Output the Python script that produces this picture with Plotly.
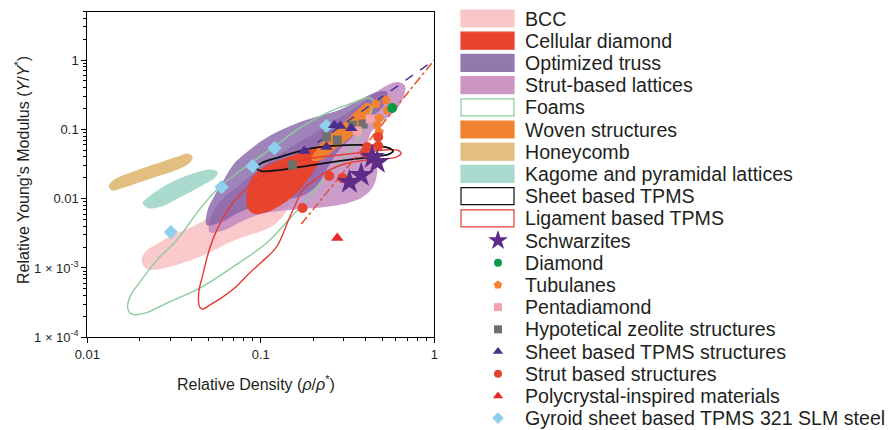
import plotly.graph_objects as go

# ---------------- data ----------------
# Regions (relative density, relative modulus) outlines
bcc_x = [0.0206, 0.0215, 0.0252, 0.0311, 0.0389, 0.0507, 0.0706, 0.0984, 0.137, 0.146, 0.137, 0.123, 0.108, 0.0688, 0.0445, 0.0262, 0.0220]
bcc_y = [0.00122, 0.00170, 0.00221, 0.00298, 0.00376, 0.00525, 0.00732, 0.00955, 0.0113, 0.00955, 0.00600, 0.00445, 0.00364, 0.00245, 0.00144, 0.000964, 0.000964]

kag_x = [0.0209, 0.0229, 0.0299, 0.0416, 0.0507, 0.0564, 0.0549, 0.0488, 0.0364, 0.0262, 0.0223]
kag_y = [0.00864, 0.0109, 0.0168, 0.0234, 0.0263, 0.0242, 0.0205, 0.0168, 0.0113, 0.00757, 0.00732]

hon_x = [0.0133, 0.0141, 0.0154, 0.0201, 0.0262, 0.0341, 0.0379, 0.0405, 0.0389, 0.0341, 0.0262, 0.0201, 0.0154, 0.0139]
hon_y = [0.0152, 0.0185, 0.0208, 0.0265, 0.0332, 0.0417, 0.0448, 0.0398, 0.0326, 0.0271, 0.0216, 0.0172, 0.0138, 0.0131]

strut_x = [0.0507, 0.0521, 0.0594, 0.0755, 0.105, 0.146, 0.204, 0.283, 0.369, 0.481, 0.611, 0.679, 0.653, 0.587, 0.494, 0.433, 0.416, 0.451, 0.469, 0.439, 0.379, 0.283, 0.204, 0.146, 0.105, 0.0805, 0.0618]
strut_y = [0.00330, 0.00580, 0.00955, 0.0157, 0.0305, 0.0537, 0.0885, 0.146, 0.224, 0.369, 0.482, 0.422, 0.265, 0.178, 0.127, 0.0914, 0.0593, 0.0385, 0.0242, 0.0142, 0.0102, 0.00809, 0.00732, 0.00685, 0.00620, 0.00491, 0.00352]

opt_x = [0.0488, 0.0494, 0.0535, 0.0602, 0.0706, 0.0861, 0.105, 0.131, 0.167, 0.217, 0.283, 0.369, 0.469, 0.535, 0.514, 0.433, 0.346, 0.283, 0.242, 0.212, 0.178, 0.137, 0.101, 0.0755, 0.0594]
opt_y = [0.00416, 0.00685, 0.0105, 0.0174, 0.0326, 0.0503, 0.0724, 0.0977, 0.127, 0.156, 0.190, 0.265, 0.345, 0.345, 0.224, 0.146, 0.0828, 0.0503, 0.0277, 0.0157, 0.0113, 0.00955, 0.00809, 0.00641, 0.00459]

cell_x = [0.0839, 0.0828, 0.0873, 0.0984, 0.120, 0.150, 0.186, 0.212, 0.223, 0.212, 0.186, 0.156, 0.131, 0.109, 0.0920]
cell_y = [0.00732, 0.0113, 0.0185, 0.0259, 0.0337, 0.0412, 0.0503, 0.0555, 0.0470, 0.0305, 0.0185, 0.0113, 0.00809, 0.00641, 0.00600]

wov_x = [0.196, 0.212, 0.248, 0.303, 0.360, 0.410, 0.444, 0.433, 0.379, 0.315, 0.265, 0.223]
wov_y = [0.0361, 0.0537, 0.0828, 0.127, 0.190, 0.240, 0.217, 0.161, 0.108, 0.0701, 0.0503, 0.0361]

foam_x = [0.0171, 0.0178, 0.0201, 0.0252, 0.0328, 0.0445, 0.0579, 0.0828, 0.123, 0.167, 0.239, 0.337, 0.410, 0.444, 0.439, 0.405, 0.337, 0.258, 0.198, 0.146, 0.108, 0.0688, 0.0445, 0.0287, 0.0215, 0.0181]
foam_y = [0.000264, 0.000406, 0.000626, 0.00130, 0.00253, 0.00708, 0.0147, 0.0295, 0.0593, 0.104, 0.172, 0.240, 0.283, 0.265, 0.210, 0.123, 0.0555, 0.0259, 0.0120, 0.00508, 0.00229, 0.00103, 0.000513, 0.000312, 0.000223, 0.000216]

lig_x = [0.0445, 0.0439, 0.0463, 0.0494, 0.0542, 0.0644, 0.0755, 0.0920, 0.112, 0.146, 0.198, 0.283, 0.394, 0.514, 0.611, 0.644, 0.603, 0.405, 0.303, 0.248, 0.204, 0.174, 0.158, 0.146, 0.123, 0.101, 0.0861, 0.0706, 0.0602, 0.0507, 0.0463]
lig_y = [0.000273, 0.000449, 0.000790, 0.00153, 0.00298, 0.00685, 0.0113, 0.0174, 0.0242, 0.0316, 0.0385, 0.0426, 0.0470, 0.0503, 0.0503, 0.0455, 0.0398, 0.0361, 0.0316, 0.0259, 0.0185, 0.0133, 0.00809, 0.00525, 0.00200, 0.00122, 0.000844, 0.000513, 0.000380, 0.000292, 0.000255]

sheet_x = [0.0945, 0.101, 0.128, 0.198, 0.311, 0.481, 0.550, 0.579, 0.550, 0.481, 0.311, 0.198, 0.128, 0.101]
sheet_y = [0.0277, 0.0326, 0.0398, 0.0537, 0.0593, 0.0574, 0.0537, 0.0486, 0.0440, 0.0412, 0.0361, 0.0305, 0.0259, 0.0250]

# Scaling guide lines
dash_x = [0.174, 1.0]
dash_y = [0.0455, 1.0]
dashdot_x = [0.171, 1.0]
dashdot_y = [0.00430, 1.0]

# Point data
schw_x = [0.324, 0.379, 0.439, 0.469]
schw_y = [0.0174, 0.0219, 0.0398, 0.0337]
dia_x = [0.572]
dia_y = [0.203]
tub_x = [0.462, 0.528, 0.535, 0.481, 0.469, 0.481]
tub_y = [0.232, 0.265, 0.190, 0.146, 0.115, 0.0914]
penta_x = [0.360, 0.427]
penta_y = [0.0945, 0.141]
zeo_x = [0.152, 0.239, 0.276, 0.337, 0.389]
zeo_y = [0.0305, 0.0774, 0.0701, 0.115, 0.119]
stpms_x = [0.178, 0.239, 0.265, 0.287, 0.332]
stpms_y = [0.0486, 0.0555, 0.115, 0.112, 0.104]
strutp_x = [0.475, 0.475, 0.410, 0.400, 0.248, 0.295, 0.174]
strutp_y = [0.0774, 0.0574, 0.0555, 0.0455, 0.0212, 0.0198, 0.00732]
poly_x = [0.276]
poly_y = [0.00270]
gyr_x = [0.0303, 0.0594, 0.0896, 0.120, 0.239]
gyr_y = [0.00330, 0.0147, 0.0295, 0.0537, 0.112]

x_ticks = [0.01, 0.1, 1]
x_ticktext = ["0.01", "0.1", "1"]
y_ticks = [1e-4, 1e-3, 0.01, 0.1, 1]
y_ticktext = ["1 × 10<sup>-4</sup>", "1 × 10<sup>-3</sup>", "0.01", "0.1", "1"]

legend_labels = ["BCC", "Cellular diamond", "Optimized truss", "Strut-based lattices", "Foams",
                 "Woven structures", "Honeycomb", "Kagome and pyramidal lattices", "Sheet based TPMS",
                 "Ligament based TPMS", "Schwarzites", "Diamond", "Tubulanes", "Pentadiamond",
                 "Hypotetical zeolite structures", "Sheet based TPMS structures", "Strut based structures",
                 "Polycrystal-inspired materials", "Gyroid sheet based TPMS 321 SLM steel"]

# ---------------- styling ----------------
FONT = "Liberation Sans, Arial, sans-serif"
TXT = "#231F20"
W, H = 891, 430

C_BCC = "#F9C6C8"
C_CELL = "#E8442D"
C_OPT = "#8462A6"
C_STRUT = "#C28ABF"
C_FOAM = "#8CCB9B"
C_WOV = "#F08230"
C_HON = "#E2BF80"
C_KAG = "#AADACE"
C_SHEET = "#111111"
C_LIG = "#E53935"

LEG_OPT = "#9179AE"
LEG_STRUT = "#CC95C2"

fig = go.Figure()


def closed(xs, ys):
    return list(xs) + [xs[0]], list(ys) + [ys[0]]


def region(xs, ys, fill, line=None, width=0, opacity=1.0, fillit=True):
    cx, cy = closed(xs, ys)
    fig.add_trace(go.Scatter(
        x=cx, y=cy, mode="lines",
        line=dict(shape="spline", smoothing=1.0, color=line if line else fill, width=width),
        fill="toself" if fillit else "none", fillcolor=fill, opacity=opacity,
        hoverinfo="skip", showlegend=False, xaxis="x", yaxis="y"))


region(bcc_x, bcc_y, C_BCC, opacity=0.95)
region(kag_x, kag_y, C_KAG)
region(hon_x, hon_y, C_HON)
region(strut_x, strut_y, C_STRUT, opacity=0.85)
region(opt_x, opt_y, C_OPT, opacity=0.78)
region(cell_x, cell_y, C_CELL)
region(wov_x, wov_y, C_WOV)
region(foam_x, foam_y, "rgba(0,0,0,0)", line=C_FOAM, width=1.4, fillit=False)
region(lig_x, lig_y, "rgba(0,0,0,0)", line=C_LIG, width=1.4, fillit=False)
region(sheet_x, sheet_y, "rgba(0,0,0,0)", line=C_SHEET, width=1.8, fillit=False)

fig.add_trace(go.Scatter(x=dash_x, y=dash_y, mode="lines",
                         line=dict(color="#3E3A96", width=1.5, dash="dash"),
                         hoverinfo="skip", showlegend=False))
fig.add_trace(go.Scatter(x=dashdot_x, y=dashdot_y, mode="lines",
                         line=dict(color="#E8502E", width=1.5, dash="dashdot"),
                         hoverinfo="skip", showlegend=False))

points = [
    (gyr_x, gyr_y, "diamond", "#8FD0EF", 11),
    (zeo_x, zeo_y, "square", "#6F6F6F", 9),
    (penta_x, penta_y, "square", "#F4A4AA", 9),
    (tub_x, tub_y, "pentagon", "#F08232", 10),
    (dia_x, dia_y, "circle", "#0C9A4A", 10),
    (stpms_x, stpms_y, "triangle-up", "#4A2C8A", 11),
    (strutp_x, strutp_y, "circle", "#E8432E", 10),
    (poly_x, poly_y, "triangle-up", "#E62A2A", 11),
    (schw_x, schw_y, "star", "#5E2B87", 19),
]
for px, py, sym, col, sz in points:
    fig.add_trace(go.Scatter(x=px, y=py, mode="markers",
                             marker=dict(symbol=sym, color=col, size=sz, line=dict(width=0)),
                             hoverinfo="skip", showlegend=False))

# ---------------- manual legend (pixel overlay axis) ----------------
swatch_fill = [C_BCC, C_CELL, LEG_OPT, LEG_STRUT, "white", C_WOV, C_HON, C_KAG, "white", "white"]
swatch_line = [C_BCC, C_CELL, LEG_OPT, LEG_STRUT, C_FOAM, C_WOV, C_HON, C_KAG, C_SHEET, C_LIG]
marker_leg = [("star", "#5E2B87", 15), ("circle", "#0C9A4A", 8), ("pentagon", "#F08232", 9),
              ("square", "#F4A4AA", 8), ("square", "#6F6F6F", 8), ("triangle-up", "#4A2C8A", 9),
              ("circle", "#E8432E", 8), ("triangle-up", "#E62A2A", 9), ("diamond", "#8FD0EF", 9)]

row0, dy = 18.5, 22.2
shapes = []
annotations = []
for i, lab in enumerate(legend_labels):
    yc = row0 + dy * i
    annotations.append(dict(x=523, y=yc, xref="x2", yref="y2", text=lab, showarrow=False,
                            xanchor="left", yanchor="middle",
                            font=dict(family=FONT, size=19.6, color=TXT)))
    if i < len(swatch_fill):
        shapes.append(dict(type="rect", xref="x2", yref="y2", x0=461, x1=514,
                           y0=yc - 8.5, y1=yc + 8.5, fillcolor=swatch_fill[i],
                           line=dict(color=swatch_line[i], width=1.2)))
    else:
        sym, col, sz = marker_leg[i - len(swatch_fill)]
        fig.add_trace(go.Scatter(x=[498], y=[yc], mode="markers", xaxis="x2", yaxis="y2",
                                 marker=dict(symbol=sym, color=col, size=sz, line=dict(width=0)),
                                 hoverinfo="skip", showlegend=False))

# axis titles
annotations.append(dict(x=256, y=383, xref="x2", yref="y2", showarrow=False,
                        text="Relative Density (<i>ρ</i>/<i>ρ</i><sup>*</sup>)",
                        font=dict(family=FONT, size=16, color=TXT), xanchor="center", yanchor="middle"))
annotations.append(dict(x=22, y=170, xref="x2", yref="y2", showarrow=False, textangle=-90,
                        text="Relative Young's Modulus (<i>Y</i>/<i>Y</i><sup>*</sup>)",
                        font=dict(family=FONT, size=16, color=TXT), xanchor="center", yanchor="middle"))

x_minor = [m * 10.0 ** e for e in (-2, -1) for m in range(2, 10)]
y_minor = [m * 10.0 ** e for e in (-4, -3, -2, -1) for m in range(2, 10)] + [2, 3, 4, 5]

x0p, x1p = 87.3, 434.3
y0p, y1p = 337.3, 11.6

fig.update_layout(
    template="none",
    width=W, height=H, autosize=False,
    margin=dict(l=0, r=0, t=0, b=0, pad=0, autoexpand=False),
    paper_bgcolor="white", plot_bgcolor="rgba(0,0,0,0)",
    showlegend=False,
    font=dict(family=FONT, size=13, color=TXT),
    xaxis=dict(type="log", range=[-2, 0], domain=[x0p / W, x1p / W], anchor="y", automargin=False,
               tickvals=x_ticks, ticktext=x_ticktext, ticks="outside", ticklen=5, tickwidth=1,
               tickcolor="black", showline=True, linecolor="black", linewidth=1, mirror=True,
               showgrid=False, zeroline=False, tickfont=dict(size=13, color=TXT, family=FONT),
               minor=dict(tickvals=x_minor, ticks="outside", ticklen=3, tickcolor="black",
                          tickwidth=1, showgrid=False)),
    yaxis=dict(type="log", range=[-4, 0.69897], domain=[(H - y0p) / H, (H - y1p) / H], anchor="x",
               automargin=False,
               tickvals=y_ticks, ticktext=y_ticktext, ticks="outside", ticklen=5, tickwidth=1,
               tickcolor="black", showline=True, linecolor="black", linewidth=1, mirror=True,
               showgrid=False, zeroline=False, tickfont=dict(size=13, color=TXT, family=FONT),
               minor=dict(tickvals=y_minor, ticks="outside", ticklen=3, tickcolor="black",
                          tickwidth=1, showgrid=False)),
    xaxis2=dict(range=[0, W], domain=[0, 1], anchor="y2", visible=False, fixedrange=True,
                automargin=False),
    yaxis2=dict(range=[H, 0], domain=[0, 1], anchor="x2", visible=False, fixedrange=True,
                automargin=False),
    shapes=shapes,
    annotations=annotations,
)

fig.write_html("out.html")
